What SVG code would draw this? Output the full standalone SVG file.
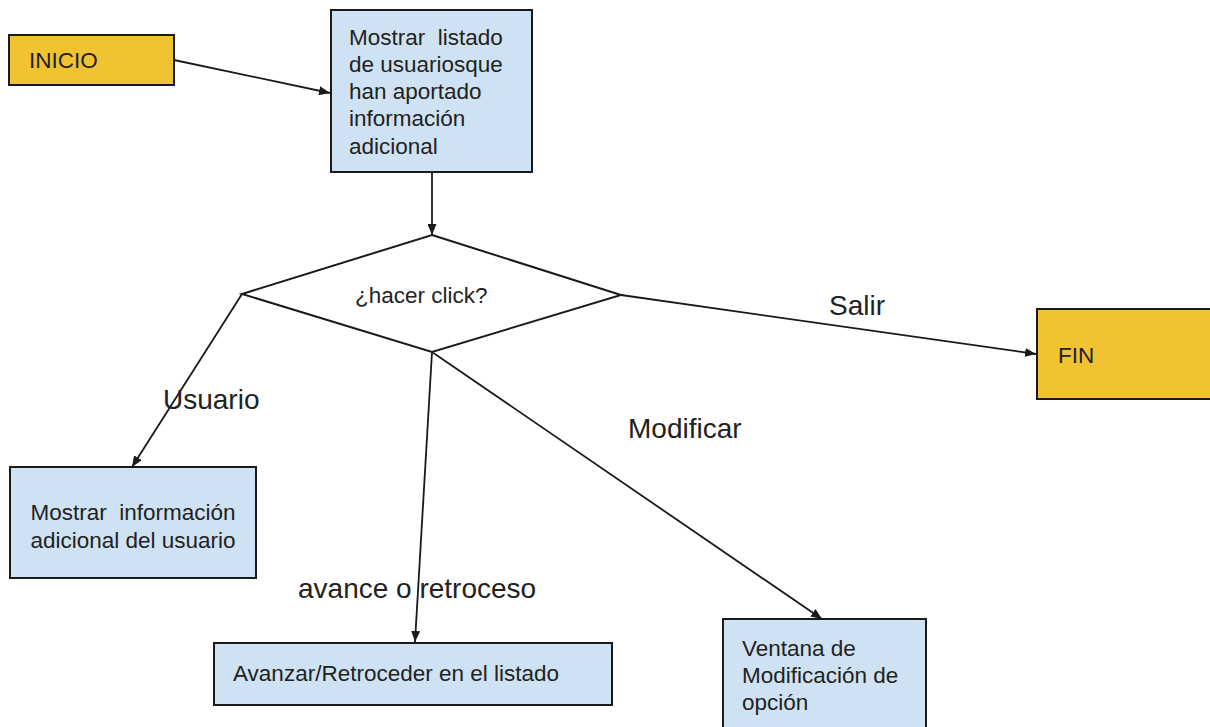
<svg xmlns="http://www.w3.org/2000/svg" width="1210" height="727" viewBox="0 0 1210 727">
  <style>
    .term { fill: #f1c232; stroke: #1a1a1a; stroke-width: 2; }
    .proc { fill: #cfe2f3; stroke: #1a1a1a; stroke-width: 2; }
    .dec { fill: #ffffff; stroke: #1a1a1a; stroke-width: 2; }
    .t { font-family: "Liberation Sans", sans-serif; font-size: 22.5px; fill: #222; }
    .lbl { font-family: "Liberation Sans", sans-serif; font-size: 28px; fill: #222; }
    .edge { fill: none; stroke: #1a1a1a; stroke-width: 1.8; }
  </style>
  <defs>
    <marker id="arrow" viewBox="0 0 10 10" refX="10" refY="5" markerWidth="11" markerHeight="9" markerUnits="userSpaceOnUse" orient="auto" preserveAspectRatio="none">
      <path d="M0,0 L10,5 L0,10 Z" fill="#1a1a1a"/>
    </marker>
  </defs>
  <rect width="1210" height="727" fill="#ffffff"/>

  <g id="connectors">
    <line class="edge" x1="174" y1="60" x2="330" y2="93" marker-end="url(#arrow)"/>
    <line class="edge" x1="432" y1="172" x2="432" y2="235" marker-end="url(#arrow)"/>
    <line class="edge" x1="621" y1="295" x2="1036" y2="354" marker-end="url(#arrow)"/>
    <line class="edge" x1="242" y1="294" x2="132" y2="467" marker-end="url(#arrow)"/>
    <line class="edge" x1="432" y1="352" x2="415" y2="642" marker-end="url(#arrow)"/>
    <line class="edge" x1="432" y1="352" x2="822" y2="619" marker-end="url(#arrow)"/>
    <text class="lbl" x="829" y="315">Salir</text>
    <text class="lbl" x="163" y="409">Usuario</text>
    <text class="lbl" x="628" y="438">Modificar</text>
    <text class="lbl" x="298" y="598">avance o retroceso</text>
  </g>

  <g id="inicio">
    <rect class="term" x="9" y="35" width="165" height="50"/>
    <text class="t" x="29" y="68">INICIO</text>
  </g>

  <g id="listado">
    <rect class="proc" x="331" y="10" width="201" height="162"/>
    <text class="t" x="349" y="45" xml:space="preserve">Mostrar  listado</text>
    <text class="t" x="349" y="72">de usuariosque</text>
    <text class="t" x="349" y="99">han aportado</text>
    <text class="t" x="349" y="126">información</text>
    <text class="t" x="349" y="154">adicional</text>
  </g>

  <g id="decision">
    <polygon class="dec" points="432,235 621,295 432,352 242,294"/>
    <text class="t" x="355" y="303">¿hacer click?</text>
  </g>

  <g id="fin">
    <rect class="term" x="1037" y="309" width="180" height="90"/>
    <text class="t" x="1058" y="363">FIN</text>
  </g>

  <g id="info-usuario">
    <rect class="proc" x="10" y="467" width="246" height="111"/>
    <text class="t" x="133" y="520" text-anchor="middle" xml:space="preserve">Mostrar  información</text>
    <text class="t" x="133" y="548" text-anchor="middle">adicional del usuario</text>
  </g>

  <g id="avanzar">
    <rect class="proc" x="214" y="643" width="398" height="62"/>
    <text class="t" x="233" y="681">Avanzar/Retroceder en el listado</text>
  </g>

  <g id="modificacion">
    <rect class="proc" x="723" y="619" width="203" height="120"/>
    <text class="t" x="742" y="656">Ventana de</text>
    <text class="t" x="742" y="683">Modificación de</text>
    <text class="t" x="742" y="710">opción</text>
  </g>
</svg>
